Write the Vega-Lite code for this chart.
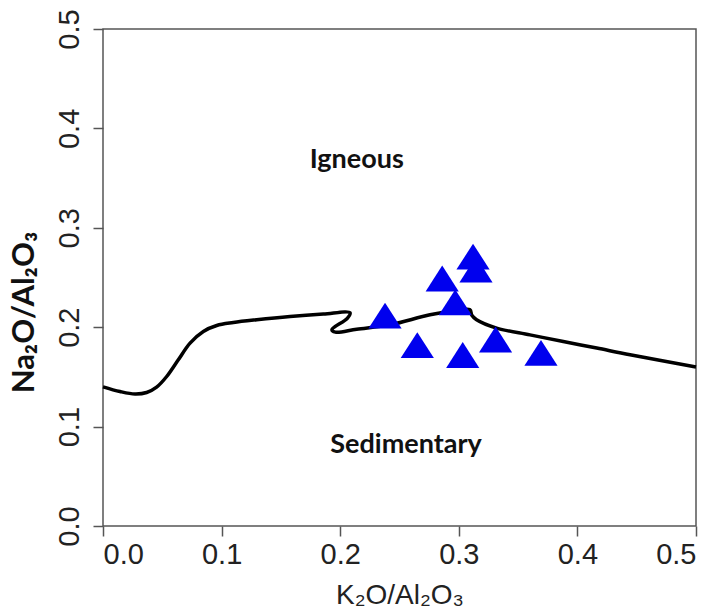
{
  "$schema": "https://vega.github.io/schema/vega-lite/v6.json",
  "width": 593,
  "height": 497,
  "autosize": {"type": "none"},
  "padding": {"left": 103, "top": 29, "right": 21, "bottom": 84},
  "background": "white",
  "config": {
    "view": {"stroke": "#555555", "strokeWidth": 1.5},
    "axis": {"grid": false, "domain": false, "tickColor": "#555555", "tickWidth": 1.5, "tickSize": 10,
             "labelFont": "Liberation Sans", "labelFontSize": 29, "labelColor": "#222222"}
  },
  "datasets": {
    "curve": [
      {"i": 1, "x": 0.0, "y": 0.1400},
      {"i": 2, "x": 0.0143, "y": 0.1353},
      {"i": 3, "x": 0.027, "y": 0.1328},
      {"i": 4, "x": 0.0368, "y": 0.1343},
      {"i": 5, "x": 0.0452, "y": 0.1397},
      {"i": 6, "x": 0.0537, "y": 0.1504},
      {"i": 7, "x": 0.0635, "y": 0.1672},
      {"i": 8, "x": 0.0734, "y": 0.1840},
      {"i": 9, "x": 0.0846, "y": 0.1957},
      {"i": 10, "x": 0.0959, "y": 0.2017},
      {"i": 11, "x": 0.1099, "y": 0.2047},
      {"i": 12, "x": 0.1296, "y": 0.2075},
      {"i": 13, "x": 0.1577, "y": 0.2108},
      {"i": 14, "x": 0.1858, "y": 0.2132},
      {"i": 15, "x": 0.2083, "y": 0.2145},
      {"i": 16, "x": 0.2060, "y": 0.2090},
      {"i": 17, "x": 0.1930, "y": 0.1975},
      {"i": 18, "x": 0.1960, "y": 0.1950},
      {"i": 19, "x": 0.2139, "y": 0.1980},
      {"i": 20, "x": 0.2420, "y": 0.2024},
      {"i": 21, "x": 0.2757, "y": 0.2125},
      {"i": 22, "x": 0.2982, "y": 0.2168},
      {"i": 23, "x": 0.3094, "y": 0.2175},
      {"i": 24, "x": 0.3110, "y": 0.2120},
      {"i": 25, "x": 0.3150, "y": 0.2075},
      {"i": 26, "x": 0.3319, "y": 0.1991},
      {"i": 27, "x": 0.3600, "y": 0.1923},
      {"i": 28, "x": 0.3881, "y": 0.1856},
      {"i": 29, "x": 0.4163, "y": 0.1790},
      {"i": 30, "x": 0.4444, "y": 0.1722},
      {"i": 31, "x": 0.5000, "y": 0.1600}
    ],
    "samples": [
      {"x": 0.312, "y": 0.271},
      {"x": 0.3145, "y": 0.258},
      {"x": 0.286, "y": 0.249},
      {"x": 0.297, "y": 0.225},
      {"x": 0.2378, "y": 0.2117},
      {"x": 0.265, "y": 0.182},
      {"x": 0.3033, "y": 0.172},
      {"x": 0.331, "y": 0.1876},
      {"x": 0.3693, "y": 0.1742}
    ],
    "labels": [
      {"x": 0.214, "y": 0.3686, "t": "Igneous"},
      {"x": 0.2555, "y": 0.0816, "t": "Sedimentary"}
    ]
  },
  "layer": [
    {
      "data": {"name": "curve"},
      "mark": {"type": "line", "color": "black", "strokeWidth": 3.5, "interpolate": "catmull-rom"},
      "encoding": {
        "x": {"field": "x", "type": "quantitative",
              "scale": {"domain": [0, 0.5], "nice": false, "zero": false},
              "axis": {"values": [0, 0.1, 0.2, 0.3, 0.4, 0.5], "format": ".1f", "labelPadding": 4,
                       "title": "K₂O/Al₂O₃", "titleFont": "Liberation Sans", "titleFontSize": 28,
                       "titleFontWeight": "normal", "titleColor": "#222222", "titleY": 55, "titleBaseline": "top"}},
        "y": {"field": "y", "type": "quantitative",
              "scale": {"domain": [0, 0.5], "nice": false, "zero": false},
              "axis": {"values": [0, 0.1, 0.2, 0.3, 0.4, 0.5], "format": ".1f", "labelAngle": -90,
                       "labelAlign": "center", "labelBaseline": "alphabetic", "labelPadding": 15,
                       "title": "Na₂O/Al₂O₃", "titleFont": "Lato", "titleFontSize": 31,
                       "titleFontWeight": "bold", "titleColor": "#111111", "titleAngle": -90,
                       "titleAlign": "center", "titleBaseline": "middle", "titleX": -79, "titleY": 283}},
        "order": {"field": "i", "type": "quantitative"}
      }
    },
    {
      "data": {"name": "samples"},
      "mark": {"type": "point", "shape": "M0,-0.78L1,0.78L-1,0.78Z", "filled": true, "color": "#0000EE", "opacity": 1, "size": 1100, "strokeWidth": 0},
      "encoding": {
        "x": {"field": "x", "type": "quantitative"},
        "y": {"field": "y", "type": "quantitative"}
      }
    },
    {
      "data": {"name": "labels"},
      "mark": {"type": "text", "font": "Lato", "fontWeight": "bold", "fontSize": 27, "color": "#111111", "align": "center", "baseline": "middle"},
      "encoding": {
        "x": {"field": "x", "type": "quantitative"},
        "y": {"field": "y", "type": "quantitative"},
        "text": {"field": "t"}
      }
    }
  ]
}
